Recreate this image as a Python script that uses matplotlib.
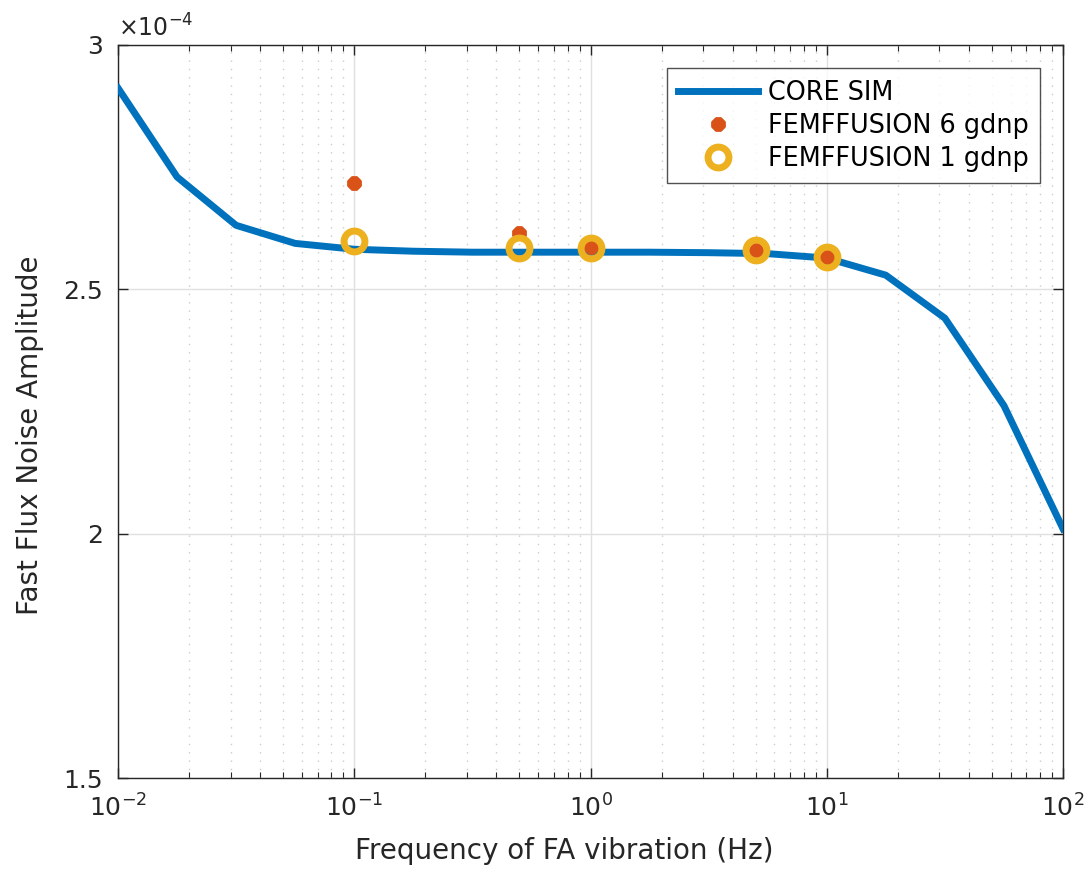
import matplotlib
matplotlib.use("Agg")
import matplotlib.pyplot as plt
from matplotlib.ticker import FuncFormatter, LogLocator, NullFormatter
import numpy as np

plt.rcParams['font.family'] = ['DejaVu Sans']
plt.rcParams['mathtext.fontset'] = 'dejavusans'

# CORE SIM curve
core_freq = [0.01, 0.01778, 0.03162, 0.05623, 0.1, 0.1778, 0.3162, 0.5623, 1.0,
             1.778, 3.162, 5.623, 10.0, 17.78, 31.62, 56.23, 100.0]
core_amp = [2.912e-4, 2.730e-4, 2.631e-4, 2.594e-4, 2.582e-4, 2.578e-4, 2.576e-4,
            2.576e-4, 2.576e-4, 2.576e-4, 2.575e-4, 2.573e-4, 2.564e-4, 2.529e-4,
            2.441e-4, 2.262e-4, 2.010e-4]

# FEMFFUSION points
fem_freq = [0.1, 0.5, 1.0, 5.0, 10.0]
fem6_amp = [2.718e-4, 2.616e-4, 2.586e-4, 2.580e-4, 2.566e-4]
fem1_amp = [2.598e-4, 2.584e-4, 2.584e-4, 2.580e-4, 2.566e-4]

ytick_vals = [1.5e-4, 2e-4, 2.5e-4, 3e-4]

fig = plt.figure(figsize=(10.89, 8.73), dpi=100)
ax = fig.add_axes([118/1089, 1 - 778/873, (1063-118)/1089, (778-45)/873])

ax.plot(core_freq, core_amp, color='#0072BD', lw=5, label='CORE SIM', zorder=3)
ax.plot(fem_freq, fem6_amp, linestyle='none', marker=(8, 2, 0), markersize=10,
        markeredgewidth=4, color='#D95319', label='FEMFFUSION 6 gdnp', zorder=4)
ax.plot(fem_freq, fem1_amp, linestyle='none', marker='o', markersize=15,
        markeredgewidth=5, markeredgecolor='#EDB120', markerfacecolor='none',
        label='FEMFFUSION 1 gdnp', zorder=5)

ax.set_xscale('log')
ax.set_xlim(0.01, 100)
ax.set_ylim(1.5e-4, 3e-4)
ax.set_yticks(ytick_vals)
ax.yaxis.set_major_formatter(FuncFormatter(lambda v, p: f"{v/1e-4:g}"))
ax.text(0.0, 1.005, r'$\times\mathregular{10^{-4}}$', transform=ax.transAxes,
        fontsize=17, color='#262626', ha='left', va='bottom')
ax.xaxis.set_minor_locator(LogLocator(base=10, subs=np.arange(2, 10), numticks=20))
ax.xaxis.set_minor_formatter(NullFormatter())

ax.grid(True, which='major', color='#e0e0e0', lw=1, linestyle='-')
ax.grid(True, which='minor', axis='x', color='#cccccc', lw=1, linestyle=(0, (1, 5)))
ax.set_axisbelow(True)

ax.tick_params(which='both', direction='in', top=True, right=True, labelsize=18,
               color='#262626', labelcolor='#262626')
ax.tick_params(axis='x', which='major', pad=12)
ax.tick_params(axis='y', which='major', pad=11)
ax.tick_params(which='major', length=7, width=1)
ax.tick_params(which='minor', length=4, width=0.8)
for s in ax.spines.values():
    s.set_color('#262626')
    s.set_linewidth(1)

ax.set_xlabel('Frequency of FA vibration (Hz)', fontsize=20, color='#262626')
ax.set_ylabel('Fast Flux Noise Amplitude', fontsize=20, color='#262626')
ax.xaxis.set_label_coords(0.472, -0.080)
ax.yaxis.set_label_coords(-0.078, 0.468)

leg = ax.legend(loc='upper right', bbox_to_anchor=(0.9757, 0.9686), borderaxespad=0,
                fontsize=18.4, frameon=True, fancybox=False, edgecolor='#262626',
                handlelength=3.1, handletextpad=0.4, borderpad=0.45, labelspacing=0.28)
leg.get_frame().set_linewidth(1)

fig.savefig('out.png', dpi=100)
